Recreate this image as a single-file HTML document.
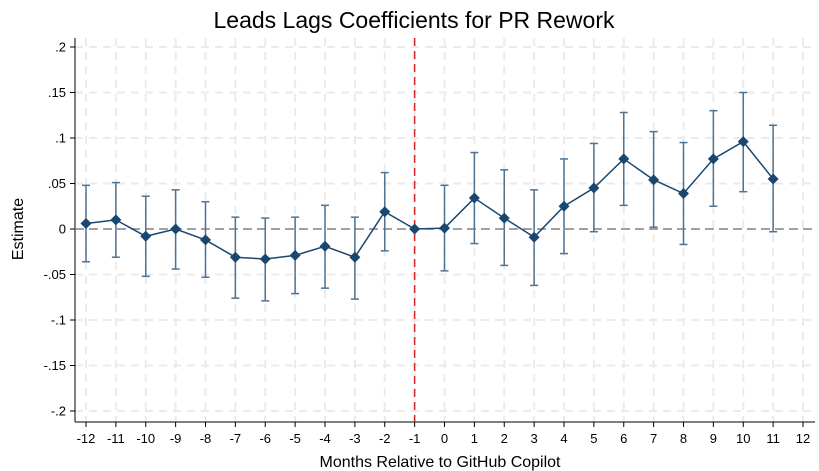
<!DOCTYPE html>
<html><head><meta charset="utf-8"><style>
body{margin:0;background:#fff;}
svg{display:block;font-family:"Liberation Sans",Arial,sans-serif;}
</style></head><body>
<svg id="chart" width="819" height="471" viewBox="0 0 819 471">
<text x="414" y="28" text-anchor="middle" font-size="23" fill="#000">Leads Lags Coefficients for PR Rework</text>
<text x="440" y="467" text-anchor="middle" font-size="16">Months Relative to GitHub Copilot</text>
<text transform="translate(23,229) rotate(-90)" text-anchor="middle" font-size="16">Estimate</text>
<g id="grid"></g><g id="axes"></g><g id="marks"></g>
</svg>
<script>
const months=[-12,-11,-10,-9,-8,-7,-6,-5,-4,-3,-2,-1,0,1,2,3,4,5,6,7,8,9,10,11];
const estimates=[0.006,0.010,-0.008,0.000,-0.012,-0.031,-0.033,-0.029,-0.019,-0.031,0.019,0.000,0.001,0.034,0.012,-0.009,0.025,0.045,0.077,0.054,0.039,0.077,0.096,0.055];
const ciLow=[-0.036,-0.031,-0.052,-0.044,-0.053,-0.076,-0.079,-0.071,-0.065,-0.077,-0.024,null,-0.046,-0.016,-0.040,-0.062,-0.027,-0.003,0.026,0.002,-0.017,0.025,0.041,-0.003];
const ciHigh=[0.048,0.051,0.036,0.043,0.030,0.013,0.012,0.013,0.026,0.013,0.062,null,0.048,0.084,0.065,0.043,0.077,0.094,0.128,0.107,0.095,0.130,0.150,0.114];
const xTicks=[-12,-11,-10,-9,-8,-7,-6,-5,-4,-3,-2,-1,0,1,2,3,4,5,6,7,8,9,10,11,12];
const yTicks=[-0.2,-0.15,-0.1,-0.05,0,0.05,0.1,0.15,0.2];
const yTickLabels=["-.2","-.15","-.1","-.05","0",".05",".1",".15",".2"];
const NS="http://www.w3.org/2000/svg";
const X=v=>86+(v+12)*29.875;
const Y=v=>229-v*910;
function mk(tag,attrs,parent){const e=document.createElementNS(NS,tag);for(const k in attrs)e.setAttribute(k,attrs[k]);document.getElementById(parent).appendChild(e);return e;}
// grid
xTicks.forEach(t=>{const l=mk('line',{x1:X(t),x2:X(t),y1:38,y2:422,stroke:'#ebebeb','stroke-width':2,'stroke-dasharray':'8,6'},'grid');

});
yTicks.forEach(t=>{const l=mk('line',{x1:75,x2:815,y1:Y(t),y2:Y(t),stroke:'#ebebeb','stroke-width':2,'stroke-dasharray':'8,6'},'grid');

});
// axes
let a=mk('line',{x1:75,x2:75,y1:38,y2:422,stroke:'#000','stroke-width':1},'axes');


a=mk('line',{x1:75,x2:815,y1:422,y2:422,stroke:'#000','stroke-width':1},'axes');


yTicks.forEach((t,i)=>{mk('line',{x1:70,x2:75,y1:Y(t),y2:Y(t),stroke:'#000'},'axes');
const tx=mk('text',{x:66,y:Y(t)+4.5,'text-anchor':'end','font-size':13},'axes');tx.textContent=yTickLabels[i];

});
xTicks.forEach(t=>{mk('line',{x1:X(t),x2:X(t),y1:422,y2:427,stroke:'#000'},'axes');
const tx=mk('text',{x:X(t),y:443,'text-anchor':'middle','font-size':13},'axes');tx.textContent=String(t);

});
// reference lines
let r=mk('line',{x1:75,x2:815,y1:Y(0),y2:Y(0),stroke:'#888','stroke-width':1.6,'stroke-dasharray':'9,5'},'marks');


r=mk('line',{x1:X(-1),x2:X(-1),y1:38,y2:422,stroke:'#d62728','stroke-width':1.5,'stroke-dasharray':'8,5'},'marks');


// CIs
const ci='#4f7393';
months.forEach((m,i)=>{if(ciLow[i]===null)return;const x=X(m);
const g=mk('g',{stroke:ci,'stroke-width':1.5},'marks');


[[x,x,Y(ciLow[i]),Y(ciHigh[i])],[x-4,x+4,Y(ciLow[i]),Y(ciLow[i])],[x-4,x+4,Y(ciHigh[i]),Y(ciHigh[i])]].forEach(c=>{
const l=document.createElementNS(NS,'line');l.setAttribute('x1',c[0]);l.setAttribute('x2',c[1]);l.setAttribute('y1',c[2]);l.setAttribute('y2',c[3]);g.appendChild(l);});});
// line
const p=mk('polyline',{points:months.map((m,i)=>X(m)+','+Y(estimates[i])).join(' '),fill:'none',stroke:'#1a476f','stroke-width':1.5},'marks');


months.forEach((m,i)=>{const x=X(m),y=Y(estimates[i]);
const d=mk('polygon',{points:`${x},${y-5.5} ${x+5.5},${y} ${x},${y+5.5} ${x-5.5},${y}`,fill:'#1a476f'},'marks');

});
</script>
</body></html>
